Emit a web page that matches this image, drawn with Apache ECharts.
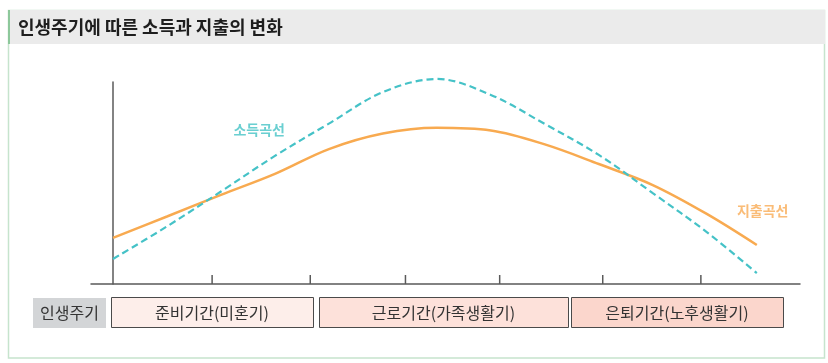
<!DOCTYPE html>
<html><head><meta charset="utf-8">
<script src="https://cdn.jsdelivr.net/npm/echarts@6/dist/echarts.min.js"></script>
<style>html,body{margin:0;padding:0;background:#fff}#c{width:828px;height:363px}</style>
</head><body><div id="c"></div>
<script>
const titleText = '인생주기에 따른 소득과 지출의 변화';
const incomeName = '소득곡선';
const spendName = '지출곡선';
const incomeData = [[0,12.4],[0.55,28.5],[1.1,45.8],[1.65,63.4],[2.2,79.4],[2.75,95.0],[3.3,101.5],[3.85,93.6],[4.4,79.2],[4.95,63.9],[5.5,45.0],[6.05,25.7],[6.56,5.4]];
const spendData = [[0,22.8],[0.55,33.4],[1.1,44.1],[1.65,54.5],[2.2,66.8],[2.75,74.5],[3.3,77.3],[3.85,76.0],[4.4,69.1],[4.95,59.4],[5.5,49.0],[6.05,34.7],[6.56,19.3]];
const tickPositions = [1.01, 2.01, 2.98, 3.94, 4.99, 5.99];
const labelPoints = [[1.49, 76.2, incomeName, '#45c3c6'], [6.62, 36.1, spendName, '#f9ab55']];
const stageHeader = '인생주기';
const stages = ['준비기간(미혼기)', '근로기간(가족생활기)', '은퇴기간(노후생활기)'];
const stageColors = ['#fdeeea', '#fde1da', '#fbd6cc'];

const FONT = '"Noto Sans CJK KR", "Noto Sans", sans-serif';
const chart = echarts.init(document.getElementById('c'), null, {renderer: 'canvas'});

const stageBoxes = [[111, 313], [319, 568], [571, 783]];
const graphics = [
  {type: 'rect', shape: {x: 8.5, y: 10.5, width: 816, height: 347.5}, style: {fill: 'none', stroke: '#c6e4cd', lineWidth: 1.5}, z: 1},
  {type: 'rect', shape: {x: 8, y: 10, width: 817, height: 34}, style: {fill: '#ebebeb'}, z: 2},
  {type: 'rect', shape: {x: 8, y: 10, width: 2, height: 34}, style: {fill: '#8dc89b'}, z: 3},
  {type: 'text', x: 18, y: 27, style: {text: titleText, font: 'bold 18px ' + FONT, fill: '#1e1e1e', verticalAlign: 'middle'}, z: 3},
  {type: 'rect', shape: {x: 33, y: 298, width: 73, height: 30}, style: {fill: '#d3d5d7'}, z: 2},
  {type: 'text', x: 69.5, y: 313, style: {text: stageHeader, font: '16px ' + FONT, fill: '#333', align: 'center', verticalAlign: 'middle'}, z: 3}
];
stages.forEach((s, i) => {
  const [x0, x1] = stageBoxes[i];
  graphics.push({type: 'rect', shape: {x: x0 + 0.5, y: 297.5, width: x1 - x0, height: 30}, style: {fill: stageColors[i], stroke: '#4a4a4a', lineWidth: 1}, z: 2});
  graphics.push({type: 'text', x: (x0 + x1) / 2, y: 313, style: {text: s, font: '16px ' + FONT, fill: '#333', align: 'center', verticalAlign: 'middle'}, z: 3});
});

chart.setOption({
  animation: false,
  grid: {left: 91, right: 28, top: 82, bottom: 79},
  xAxis: {type: 'value', min: -0.224, max: 7.0, splitLine: {show: false}, axisTick: {show: false}, axisLabel: {show: false},
    axisLine: {show: true, onZero: false, lineStyle: {color: '#5a5a5a', width: 1.5}}},
  yAxis: {type: 'value', min: 0, max: 100, splitLine: {show: false}, axisTick: {show: false}, axisLabel: {show: false},
    axisLine: {show: true, onZero: true, lineStyle: {color: '#5a5a5a', width: 1.5}}},
  graphic: graphics,
  series: [
    {type: 'line', name: spendName, data: spendData, smooth: 0.35, showSymbol: false, clip: false,
      lineStyle: {color: '#f8aa50', width: 2.5}, z: 3},
    {type: 'line', name: incomeName, data: incomeData, smooth: 0.35, showSymbol: false, clip: false,
      lineStyle: {color: '#45c2c7', width: 2.2, type: [7, 4]}, z: 4},
    {type: 'custom', clip: false, data: tickPositions.map(t => [t, 0]),
      renderItem: (params, api) => {
        const p = api.coord([api.value(0), 0]);
        return {type: 'line', shape: {x1: p[0], y1: p[1], x2: p[0], y2: p[1] - 9}, style: {stroke: '#5a5a5a', lineWidth: 1.5}};
      }, z: 2},
    {type: 'scatter', symbolSize: 0, clip: false, silent: true,
      data: labelPoints.map(l => ({value: [l[0], l[1]], label: {show: true, formatter: l[2], color: l[3]}})),
      label: {position: 'inside', fontSize: 14, fontWeight: 'bold', fontFamily: FONT}, z: 5}
  ]
});
</script></body></html>
